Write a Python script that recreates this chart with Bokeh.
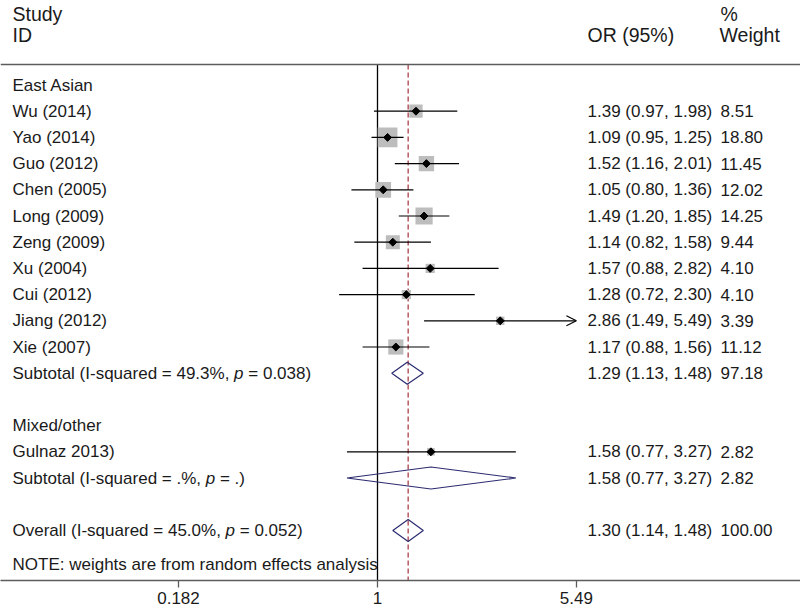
import math
from bokeh.plotting import figure
from bokeh.models import (Range1d, FixedTicker, CustomJSTickFormatter, ColumnDataSource,
                          Arrow, OpenHead, Span)
from bokeh.core.properties import value
from bokeh.embed import file_html
from bokeh.resources import INLINE

# ---------------- data ----------------
study = ["Wu (2014)", "Yao (2014)", "Guo (2012)", "Chen (2005)", "Long (2009)",
         "Zeng (2009)", "Xu (2004)", "Cui (2012)", "Jiang (2012)", "Xie (2007)",
         "Gulnaz 2013)"]
group = ["East Asian"] * 10 + ["Mixed/other"]
odds = [1.39, 1.09, 1.52, 1.05, 1.49, 1.14, 1.57, 1.28, 2.86, 1.17, 1.58]
lo = [0.97, 0.95, 1.16, 0.80, 1.20, 0.82, 0.88, 0.72, 1.49, 0.88, 0.77]
hi = [1.98, 1.25, 2.01, 1.36, 1.85, 1.58, 2.82, 2.30, 5.49, 1.56, 3.27]
weight = [8.51, 18.80, 11.45, 12.02, 14.25, 9.44, 4.10, 4.10, 3.39, 11.12, 2.82]

subgroups = ["East Asian", "Mixed/other"]
sub_or = [1.29, 1.58]
sub_lo = [1.13, 0.77]
sub_hi = [1.48, 3.27]
sub_w = [97.18, 2.82]
sub_i2 = [49.3, None]
sub_p = ["0.038", "."]

overall_or = 1.30
overall_lo = 1.14
overall_hi = 1.48
overall_w = 100.00
overall_i2 = 45.0
overall_p = "0.052"

note = "NOTE: weights are from random effects analysis"
tick_values = [0.182, 1, 5.49]
tick_labels = ["0.182", "1", "5.49"]

# ---------------- geometry / style ----------------
FONT = "Liberation Sans"
BODY = 17.0
HEAD = 19.5
TXT = "#1a1a1a"
GRAYLINE = "#5c5c5c"
NAVY = "#2b2b70"
DASH = "#a3303a"
SQ = "#bdbdbd"
NBSP = "\u00a0"

FRAME_L, FRAME_R = 0, 800
FRAME_T, FRAME_B = 0, 580
X0_PX = 377.0
PX_PER_LN = 116.8
ROW0_PX = 84.5
ROW_PX = 26.2


def px_to_x(px):
    return math.exp((px - X0_PX) / PX_PER_LN)


def px_to_row(py):
    return (py - ROW0_PX) / ROW_PX


# Arial / Liberation Sans advance widths (em/1000)
AW = {" ": 278, "(": 333, ")": 333, "-": 333, "=": 584, "%": 889, ",": 278, ".": 278,
      "S": 667, "I": 278, "O": 778, "u": 556, "b": 556, "t": 278, "o": 556, "a": 556,
      "l": 222, "s": 500, "q": 556, "r": 333, "e": 556, "d": 556, "v": 500, "p": 556}
for dch in "0123456789":
    AW[dch] = 556


def text_w(s, fs):
    return sum(AW.get(c, 556) for c in s) / 1000.0 * fs


# ---------------- layout rows ----------------
r = 0
study_rows = [0] * len(study)
header_rows, sub_rows = [], []
for g in subgroups:
    header_rows.append(r)
    r += 1
    for i, gg in enumerate(group):
        if gg == g:
            study_rows[i] = r
            r += 1
    sub_rows.append(r)
    r += 2
overall_row = r
note_row = r + 1.3

top_line_row = px_to_row(64)
y_bottom = px_to_row(FRAME_B)
y_top = px_to_row(FRAME_T)

p = figure(frame_width=FRAME_R - FRAME_L, frame_height=FRAME_B - FRAME_T,
           x_axis_type="log",
           x_range=Range1d(px_to_x(FRAME_L), px_to_x(FRAME_R)),
           y_range=Range1d(y_bottom, y_top),
           y_axis_location=None, output_backend="svg", toolbar_location=None,
           min_border=0, min_border_left=0, min_border_right=0,
           min_border_top=0, min_border_bottom=0)
p.xgrid.visible = False
p.ygrid.visible = False
p.outline_line_color = None
p.background_fill_color = "white"
p.border_fill_color = "white"

# top rule
p.add_layout(Span(location=top_line_row, dimension="width", line_color=GRAYLINE, line_width=1.5))

# null line and overall dashed line
p.segment(x0=[1], y0=[top_line_row], x1=[1], y1=[y_bottom], line_color="black", line_width=1.3)
p.segment(x0=[overall_or], y0=[top_line_row], x1=[overall_or], y1=[y_bottom],
          line_color=DASH, line_width=1.2, line_dash="5 3")

# weight squares
sq_src = ColumnDataSource(dict(x=odds, y=study_rows, size=[4.55 * math.sqrt(w) for w in weight]))
p.scatter(x="x", y="y", size="size", marker="square", source=sq_src,
          fill_color=SQ, line_color=None)

# CI lines
xmax = tick_values[-1]
seg_x0, seg_x1, seg_y = [], [], []
for i in range(len(study)):
    if hi[i] >= xmax:
        p.add_layout(Arrow(end=OpenHead(size=10, line_width=1.2, line_color="black"),
                           x_start=lo[i], x_end=hi[i], y_start=study_rows[i], y_end=study_rows[i],
                           line_width=1.2, line_color="black"))
    else:
        seg_x0.append(lo[i])
        seg_x1.append(hi[i])
        seg_y.append(study_rows[i])
p.segment(x0=seg_x0, y0=seg_y, x1=seg_x1, y1=seg_y, line_color="black", line_width=1.2)

# point estimates
p.scatter(x=odds, y=study_rows, marker="square", angle=math.pi / 4, size=5.6,
          fill_color="black", line_color="black")

# pooled diamonds
h = 11.0 / ROW_PX
d_or = sub_or + [overall_or]
d_lo = sub_lo + [overall_lo]
d_hi = sub_hi + [overall_hi]
d_row = sub_rows + [overall_row]
xs = [[d_lo[k], d_or[k], d_hi[k], d_or[k]] for k in range(len(d_or))]
ys = [[d_row[k], d_row[k] - h, d_row[k], d_row[k] + h] for k in range(len(d_or))]
p.patches(xs=xs, ys=ys, fill_color=None, line_color=NAVY, line_width=1.2)

# ---------------- texts ----------------
LX = px_to_x(12)
ORX = px_to_x(587)
WX = px_to_x(720)

lab_x, lab_y, lab_t, lab_off, lab_style = [], [], [], [], []


def add_lab(t, row, off=0.0, style="normal"):
    lab_x.append(LX)
    lab_y.append(row)
    lab_t.append(t)
    lab_off.append(off)
    lab_style.append(style)


for k, g in enumerate(subgroups):
    add_lab(g, header_rows[k])
for i, s in enumerate(study):
    add_lab(s, study_rows[i])


def add_stat_label(lead, i2, pv, row):
    i2s = "." if i2 is None else f"{i2:.1f}"
    pre = f"{lead} (I-squared = {i2s}%, "
    w1 = text_w(pre, BODY)
    add_lab(pre.rstrip(), row)
    add_lab("p", row, w1, "italic")
    add_lab(f"{NBSP}={NBSP}{pv})", row, w1 + text_w("p", BODY))


for k in range(len(subgroups)):
    add_stat_label("Subtotal", sub_i2[k], sub_p[k], sub_rows[k])
add_stat_label("Overall", overall_i2, overall_p, overall_row)
add_lab(note, note_row)

lab_src = ColumnDataSource(dict(x=lab_x, y=lab_y, text=lab_t, off=lab_off, style=lab_style))
p.text(x="x", y="y", text="text", x_offset="off", text_font_style="style", source=lab_src,
       text_font=value(FONT), text_font_size=value(f"{BODY}px"), text_color=TXT,
       text_align="left", text_baseline="middle")

# OR and weight columns
all_or = odds + sub_or + [overall_or]
all_lo = lo + sub_lo + [overall_lo]
all_hi = hi + sub_hi + [overall_hi]
all_w = weight + sub_w + [overall_w]
all_row = study_rows + sub_rows + [overall_row]
or_txt = [f"{a:.2f} ({b:.2f}, {c:.2f})" for a, b, c in zip(all_or, all_lo, all_hi)]
w_txt = [f"{w:.2f}" for w in all_w]
p.text(x=[ORX] * len(all_row), y=all_row, text=or_txt,
       text_font=value(FONT), text_font_size=value(f"{BODY}px"), text_color=TXT,
       text_align="left", text_baseline="middle")
p.text(x=[WX] * len(all_row), y=all_row, text=w_txt,
       text_font=value(FONT), text_font_size=value(f"{BODY}px"), text_color=TXT,
       text_align="left", text_baseline="middle")

# headers
hx = [px_to_x(12), px_to_x(12), px_to_x(587), px_to_x(720), px_to_x(719)]
hy = [px_to_row(13), px_to_row(34), px_to_row(34), px_to_row(13), px_to_row(34)]
ht = ["Study", "ID", "OR (95%)", "%", "Weight"]
p.text(x=hx, y=hy, text=ht, text_font=value(FONT), text_font_size=value(f"{HEAD}px"),
       text_color=TXT, text_align="left", text_baseline="middle")

# ---------------- axis ----------------
ax = p.xaxis[0]
ax.ticker = FixedTicker(ticks=tick_values, minor_ticks=[])
ax.formatter = CustomJSTickFormatter(args=dict(vals=tick_values, labs=tick_labels), code="""
for (let i = 0; i < vals.length; i++) {
  if (Math.abs(vals[i] - tick) < 1e-6) return labs[i];
}
return '';
""")
ax.axis_line_color = GRAYLINE
ax.axis_line_width = 1.5
ax.major_tick_line_color = GRAYLINE
ax.major_tick_line_width = 1.3
ax.major_tick_in = 0
ax.major_tick_out = 7
ax.minor_tick_line_color = None
ax.major_label_standoff = 4
ax.major_label_text_font = FONT
ax.major_label_text_font_size = f"{BODY}px"
ax.major_label_text_color = TXT

open("out.html", "w").write(file_html(p, INLINE))
